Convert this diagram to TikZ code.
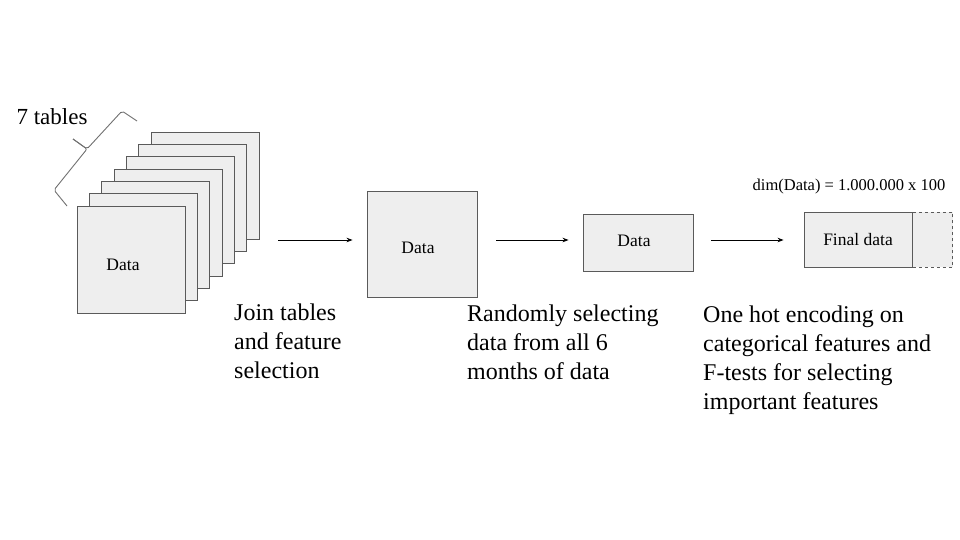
\documentclass[tikz,border=0pt]{standalone}
\usepackage{fontspec}
\setmainfont{Liberation Serif}
\usetikzlibrary{positioning,arrows.meta}

\definecolor{boxline}{HTML}{5A5A5A}
\definecolor{boxfill}{HTML}{EEEEEE}
\definecolor{braceline}{HTML}{707070}

\begin{document}
\begin{tikzpicture}[x=1pt,y=-1pt,
    tbl/.style={draw=boxline, fill=boxfill, line width=0.9pt, inner sep=0pt,
        minimum width=108pt, minimum height=107pt, font=\fontsize{17.5}{20}\selectfont},
    step text/.style={anchor=base west, align=left, inner sep=0pt,
        font=\fontsize{24}{29}\selectfont},
    arr/.style={-{Stealth[length=6pt,width=4.5pt]}, line width=0.8pt}, ]
    \useasboundingbox (0,0) rectangle (960,540);

    % stack of tables, back to front
    \foreach \i in {6,...,1}
    {
        \node[tbl] (t-\i) at ({131+12.33*\i},{259.5-12.33*\i}) {};
    }
    \node[tbl] (t-0) at (131,259.5) {};
    \node[font=\fontsize{17.5}{20}\selectfont] (d-0) at (123,265) {Data};

    % brace over the stack
    \draw[braceline, line width=0.9pt, rounded corners=2pt] (67,206) -- (54,190) -- (87,149) -- (73,139);
    \draw[braceline, line width=0.9pt, rounded corners=2pt] (73,139) -- (87,149) -- (122,111) -- (137,121);
    \node[font=\fontsize{23}{26}\selectfont] (ntab) at (52,117) {7 tables};

    \node[tbl, minimum width=110pt, minimum height=106pt] (joined) at (422,244) {};
    \node[font=\fontsize{17.5}{20}\selectfont] (d-1) at (418,248) {Data};
    \node[tbl, minimum width=110pt, minimum height=57pt] (sample) at (638,242.5) {};
    \node[font=\fontsize{17.5}{20}\selectfont] (d-2) at (634,241) {Data};
    \node[tbl, minimum width=108pt, minimum height=55pt] (final) at (858,239.5) {Final data};
    \node[tbl, dashed, minimum width=40pt, minimum height=55pt, anchor=west] (extra) at (final.east) {};
    \node[font=\fontsize{16.5}{19}\selectfont] (dimlbl) at (849,187) {dim(Data) = 1.000.000 x 100};

    \draw[arr, shorten <=19pt, shorten >=14pt] (t-6.east |- 0,240) -- (joined.west |- 0,240);
    \draw[arr, shorten <=19pt, shorten >=14pt] (joined.east |- 0,240) -- (sample.west |- 0,240);
    \draw[arr, shorten <=18pt, shorten >=20pt] (sample.east |- 0,240) -- (final.west |- 0,240);

    % multi-line nodes: base is the last line
    \node[step text] (s-1) at (234,378) {Join tables\\and feature\\selection};
    \node[step text] (s-2) at (467,379) {Randomly selecting\\data from all 6\\months of data};
    \node[step text] (s-3) at (703,409) {One hot encoding on\\categorical features and\\F-tests for selecting\\important features};
\end{tikzpicture}
\end{document}
